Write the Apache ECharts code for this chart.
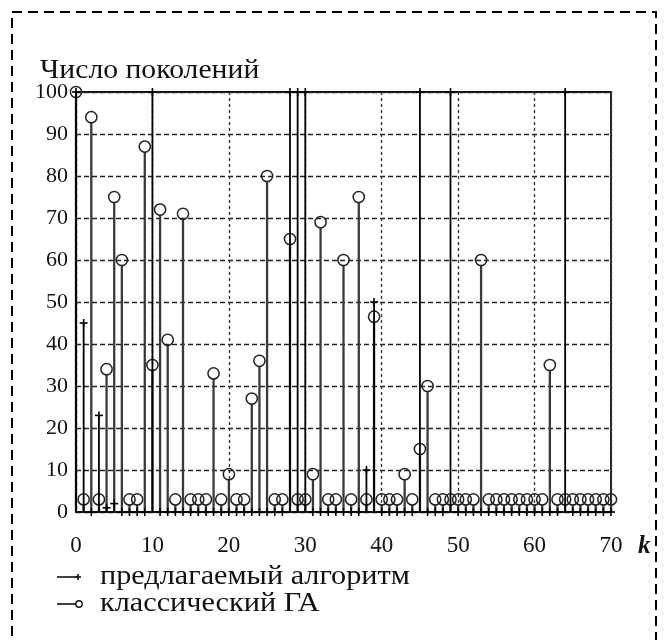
<!DOCTYPE html>
<html>
<head>
<meta charset="utf-8">
<script src="https://cdn.jsdelivr.net/npm/echarts@6/dist/echarts.min.js"></script>
<style>
html,body{margin:0;padding:0;background:#fff;}
#chart{width:668px;height:640px;}
</style>
</head>
<body>
<div id="chart"></div>
<script>
const kValues = [0,1,2,3,4,5,6,7,8,9,10,11,12,13,14,15,16,17,18,19,20,21,22,23,24,25,26,27,28,29,30,31,32,33,34,35,36,37,38,39,40,41,42,43,44,45,46,47,48,49,50,51,52,53,54,55,56,57,58,59,60,61,62,63,64,65,66,67,68,69,70];
const proposed = [100,45,0,23,1,2,0,0,0,0,100,0,0,0,0,0,0,0,0,0,0,0,0,0,0,0,0,0,100,100,100,0,0,0,0,0,0,0,10,50,0,0,0,0,0,100,0,0,0,100,0,0,0,0,0,0,0,0,0,0,0,0,0,0,100,0,0,0,0,0,0];
const classic = [100,3,94,3,34,75,60,3,3,87,35,72,41,3,71,3,3,3,33,3,9,3,3,27,36,80,3,3,65,3,3,9,69,3,3,60,3,75,3,46.5,3,3,3,9,3,15,30,3,3,3,3,3,3,60,3,3,3,3,3,3,3,3,35,3,3,3,3,3,3,3,3];
const yTicks = [0,10,20,30,40,50,60,70,80,90,100];
const xTicks = [0,10,20,30,40,50,60,70];
const seriesNames = ['предлагаемый алгоритм','классический ГА'];
const yTitle = 'Число поколений';
const xName = 'k';

const FONT = "'Liberation Serif', 'DejaVu Serif', serif";
const TXT = "27px 'Liberation Serif', serif";

function stemRender(kind){
  return function(params, api){
    const x = api.value(0), y = api.value(1);
    const p0 = api.coord([x,0]), p1 = api.coord([x,y]);
    const children = [];
    if (kind === 'circle') {
      children.push({type:'line', shape:{x1:p0[0],y1:p0[1],x2:p1[0],y2:p1[1]+5.5}, style:{stroke:'#3a3a3a', lineWidth:2.3}});
      children.push({type:'circle', shape:{cx:p1[0], cy:p1[1], r:5.6}, style:{fill:'none', stroke:'#222', lineWidth:1.5}});
    } else {
      children.push({type:'line', shape:{x1:p0[0],y1:p0[1],x2:p1[0],y2:p1[1]}, style:{stroke:'#000', lineWidth:1.8}});
      children.push({type:'line', shape:{x1:p1[0]-4,y1:p1[1],x2:p1[0]+4,y2:p1[1]}, style:{stroke:'#000', lineWidth:1.6}});
      children.push({type:'line', shape:{x1:p1[0],y1:p1[1]-4,x2:p1[0],y2:p1[1]+4}, style:{stroke:'#000', lineWidth:1.6}});
    }
    return {type:'group', children};
  };
}

const chart = echarts.init(document.getElementById('chart'));
chart.setOption({
  backgroundColor:'#fff',
  animation:false,
  textStyle:{fontFamily:FONT},
  grid:{left:76, right:57, top:92, bottom:128, show:true, borderColor:'#111', borderWidth:1.8, backgroundColor:'transparent'},
  xAxis:{
    type:'value', min:0, max:70, interval:10,
    axisLine:{show:true, onZero:false, lineStyle:{color:'#111', width:1.8}},
    axisTick:{show:false},
    axisLabel:{color:'#111', fontFamily:FONT, fontSize:23, margin:22,
      formatter:function(v){ return xTicks.indexOf(v) >= 0 ? String(v) : ''; }},
    splitLine:{show:true, lineStyle:{color:'#333', type:[3,3], width:1.3}}
  },
  yAxis:{
    type:'value', min:0, max:100, interval:10,
    axisLine:{show:true, lineStyle:{color:'#111', width:1.8}},
    axisTick:{show:false},
    axisLabel:{color:'#111', fontFamily:FONT, fontSize:22, margin:8,
      formatter:function(v){ return yTicks.indexOf(v) >= 0 ? String(v) : ''; }},
    splitLine:{show:true, lineStyle:{color:'#222', type:[5,3], width:1.4}}
  },
  series:[
    {name:seriesNames[1], type:'custom', clip:false, renderItem:stemRender('circle'),
     data:kValues.map((k,i)=>[k, classic[i]]), z:2},
    {name:seriesNames[0], type:'custom', clip:false, renderItem:stemRender('plus'),
     data:kValues.map((k,i)=>[k, proposed[i]]), z:3}
  ],
  graphic:[
    {type:'rect', shape:{x:12, y:12, width:644, height:660}, style:{fill:'none', stroke:'#000', lineWidth:2, lineDash:[10,6]}, silent:true},
    {type:'text', x:40, y:57, scaleX:1.1, style:{text:yTitle, font:TXT, fill:'#111', textAlign:'left', textVerticalAlign:'top'}},
    {type:'text', x:638, y:534, style:{text:xName, font:"italic bold 25px 'Liberation Serif', serif", fill:'#111', textAlign:'left', textVerticalAlign:'top'}},
    {type:'line', shape:{x1:57, y1:577, x2:78, y2:577}, style:{stroke:'#111', lineWidth:1.6}},
    {type:'line', shape:{x1:78, y1:574, x2:78, y2:580}, style:{stroke:'#111', lineWidth:1.6}},
    {type:'line', shape:{x1:75, y1:577, x2:81, y2:577}, style:{stroke:'#111', lineWidth:1.6}},
    {type:'text', x:100, y:563, scaleX:1.12, style:{text:seriesNames[0], font:TXT, fill:'#111', textAlign:'left', textVerticalAlign:'top'}},
    {type:'line', shape:{x1:57, y1:604, x2:76, y2:604}, style:{stroke:'#111', lineWidth:1.6}},
    {type:'circle', shape:{cx:79, cy:604, r:3.2}, style:{fill:'none', stroke:'#111', lineWidth:1.4}},
    {type:'text', x:100, y:590, scaleX:1.12, style:{text:seriesNames[1], font:TXT, fill:'#111', textAlign:'left', textVerticalAlign:'top'}}
  ]
});
</script>
</body>
</html>
